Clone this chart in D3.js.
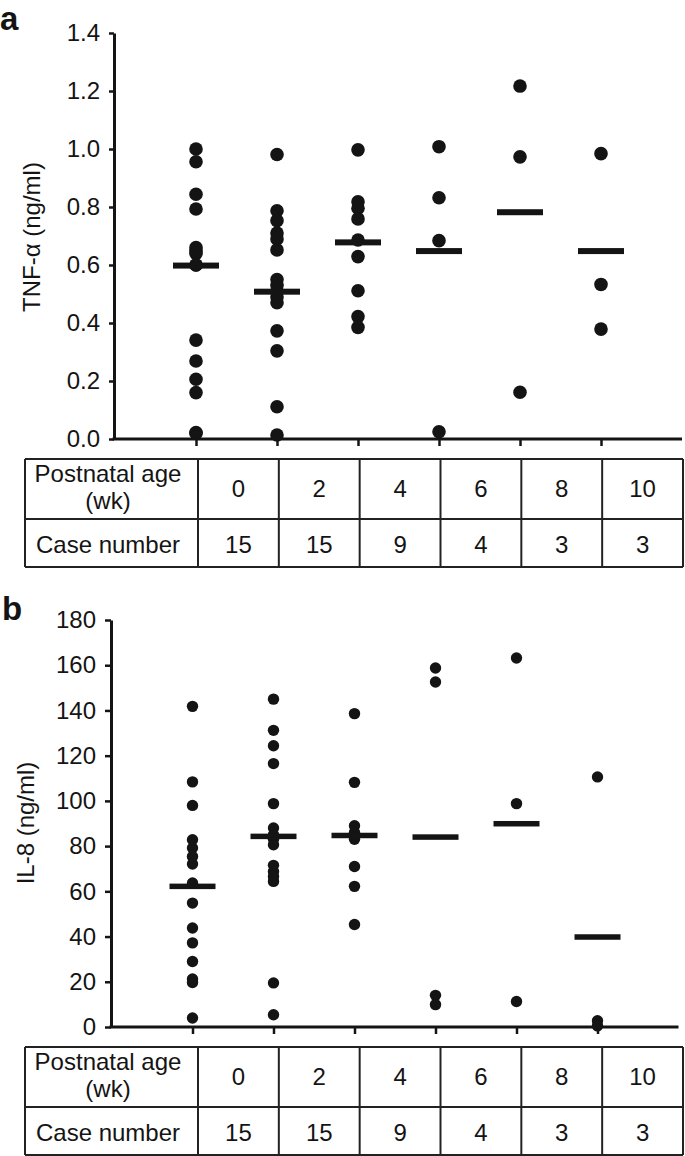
<!DOCTYPE html>
<html>
<head>
<meta charset="utf-8">
<script src="https://cdn.jsdelivr.net/npm/d3@7"></script>
<style>
  html, body { margin: 0; padding: 0; background: #fff; }
  svg { display: block; font-family: "Liberation Sans", Arial, Helvetica, sans-serif; }
</style>
</head>
<body>
<svg id="chart" width="685" height="1156"></svg>
<script>
// ---- data ----
const ages = [0, 2, 4, 6, 8, 10];
const caseNumbers = [15, 15, 9, 4, 3, 3];
const rowLabelAge = ["Postnatal age", "(wk)"];
const rowLabelCase = "Case number";

const tnfTicks = [0, 0.2, 0.4, 0.6, 0.8, 1.0, 1.2, 1.4];
const tnfWeek0 = [1.00, 0.956, 0.844, 0.793, 0.66, 0.65, 0.64, 0.60, 0.60, 0.341, 0.269, 0.206, 0.160, 0.022, 0.02];
const tnfWeek2 = [0.981, 0.787, 0.753, 0.71, 0.69, 0.652, 0.55, 0.53, 0.51, 0.49, 0.47, 0.373, 0.304, 0.111, 0.014];
const tnfWeek4 = [0.997, 0.818, 0.796, 0.759, 0.686, 0.629, 0.511, 0.422, 0.385];
const tnfWeek6 = [1.008, 0.832, 0.684, 0.025];
const tnfWeek8 = [1.217, 0.973, 0.161];
const tnfWeek10 = [0.984, 0.533, 0.379];
const tnfBars = [0.598, 0.508, 0.678, 0.648, 0.782, 0.648];

const il8Ticks = [0, 20, 40, 60, 80, 100, 120, 140, 160, 180];
const il8Week0 = [141.8, 108.4, 98.0, 82.8, 79.2, 75.4, 72.1, 63.7, 54.8, 43.8, 37.2, 29.0, 21.2, 19.7, 4.0];
const il8Week2 = [145, 131.2, 124.4, 116.5, 98.8, 88, 85, 83, 80.6, 71.5, 68.8, 66.6, 64.4, 19.5, 5.4];
const il8Week4 = [138.6, 108.2, 89, 86, 84, 83, 71, 62.2, 45.3];
const il8Week6 = [158.8, 152.6, 14.0, 9.9];
const il8Week8 = [163.2, 98.8, 11.3];
const il8Week10 = [110.6, 2.8, 0.5];
const il8Bars = [62.2, 84.3, 84.7, 84.0, 89.9, 39.8];

const tnfGroups = [tnfWeek0, tnfWeek2, tnfWeek4, tnfWeek6, tnfWeek8, tnfWeek10];
const il8Groups = [il8Week0, il8Week2, il8Week4, il8Week6, il8Week8, il8Week10];

const svg = d3.select("#chart");
const INK = "#141414";

function panel(cfg) {
  const g = svg.append("g");
  const x = d3.scaleLinear().domain([-2, 12]).range(cfg.xRange);
  const y = d3.scaleLinear().domain(cfg.yDomain).range(cfg.yRange);

  // panel letter
  g.append("text").attr("x", cfg.letterX).attr("y", cfg.letterY)
    .attr("font-size", 33).attr("font-weight", "bold").attr("fill", INK)
    .text(cfg.letter);

  // y axis
  const yAxis = g.append("g").attr("transform", `translate(${cfg.axisX},0)`)
    .call(d3.axisLeft(y).tickValues(cfg.ticks).tickFormat(cfg.fmt).tickSize(cfg.tickLen).tickSizeOuter(0).tickPadding(9));
  yAxis.select(".domain").attr("stroke", INK).attr("stroke-width", 3);
  yAxis.selectAll(".tick line").attr("stroke", INK).attr("stroke-width", 2.5);
  yAxis.selectAll(".tick text").attr("font-size", 24).attr("fill", INK)
    .attr("font-family", "'Liberation Sans', Arial, sans-serif");

  // x axis
  const xAxis = g.append("g").attr("transform", `translate(0,${cfg.yRange[0]})`)
    .call(d3.axisBottom(x).tickValues(ages).tickFormat("").tickSize(7).tickSizeOuter(0));
  xAxis.select(".domain").attr("stroke", INK).attr("stroke-width", 3)
    .attr("d", `M${cfg.axisX - 1.5},0H${cfg.xRange[1]}`);
  xAxis.selectAll(".tick line").attr("stroke", INK).attr("stroke-width", 2.5);

  // y title
  g.append("text")
    .attr("transform", `translate(${cfg.titleX},${cfg.titleY}) rotate(-90)`)
    .attr("text-anchor", "middle").attr("font-size", 24).attr("fill", INK)
    .text(cfg.title);

  // dots
  cfg.groups.forEach((vals, i) => {
    g.selectAll(null).data(vals).enter().append("circle")
      .attr("cx", x(ages[i])).attr("cy", d => y(d)).attr("r", cfg.r).attr("fill", INK);
  });
  // bars
  g.selectAll(null).data(cfg.bars).enter().append("rect")
    .attr("x", (d, i) => x(ages[i]) - 23).attr("width", 46)
    .attr("y", d => y(d) - cfg.barH / 2).attr("height", cfg.barH).attr("fill", INK);

  // table
  const t = g.append("g");
  const top = cfg.tableTop, mid = top + 60, bot = top + 108;
  const left = 25, labelRight = 198, right = 683;
  const col = d3.scaleBand().domain(ages).range([labelRight, right]);
  const line = (x1, y1, x2, y2) => t.append("line").attr("x1", x1).attr("y1", y1).attr("x2", x2).attr("y2", y2)
    .attr("stroke", "#222").attr("stroke-width", 2);
  [top, mid, bot].forEach(yy => line(left, yy, right, yy));
  [left, labelRight, right].forEach(xx => line(xx, top, xx, bot));
  ages.slice(1).forEach(a => line(col(a), top, col(a), bot));

  const txt = (xx, yy, s) => t.append("text").attr("x", xx).attr("y", yy)
    .attr("text-anchor", "middle").attr("font-size", 24).attr("fill", INK).text(s);
  txt(108, top + 23, rowLabelAge[0]);
  txt(108, top + 50, rowLabelAge[1]);
  txt(108, mid + 34, rowLabelCase);
  ages.forEach((a, i) => {
    txt(col(a) + col.bandwidth() / 2, top + 38, a);
    txt(col(a) + col.bandwidth() / 2, mid + 34, caseNumbers[i]);
  });
}

panel({
  letter: "a", letterX: 0, letterY: 30,
  xRange: [115, 682], axisX: 114,
  yDomain: [0, 1.4], yRange: [439, 33], ticks: tnfTicks, fmt: d3.format(".1f"), tickLen: 5,
  title: "TNF-α (ng/ml)", titleX: 40, titleY: 237,
  groups: tnfGroups, bars: tnfBars, r: 6.8, barH: 6,
  tableTop: 459
});

panel({
  letter: "b", letterX: 2, letterY: 620,
  xRange: [111.5, 678.5], axisX: 111,
  yDomain: [0, 180], yRange: [1027, 620], ticks: il8Ticks, fmt: d3.format("d"), tickLen: 6,
  title: "IL-8 (ng/ml)", titleX: 34, titleY: 823,
  groups: il8Groups, bars: il8Bars, r: 5.7, barH: 5.5,
  tableTop: 1047
});
</script>
</body>
</html>
